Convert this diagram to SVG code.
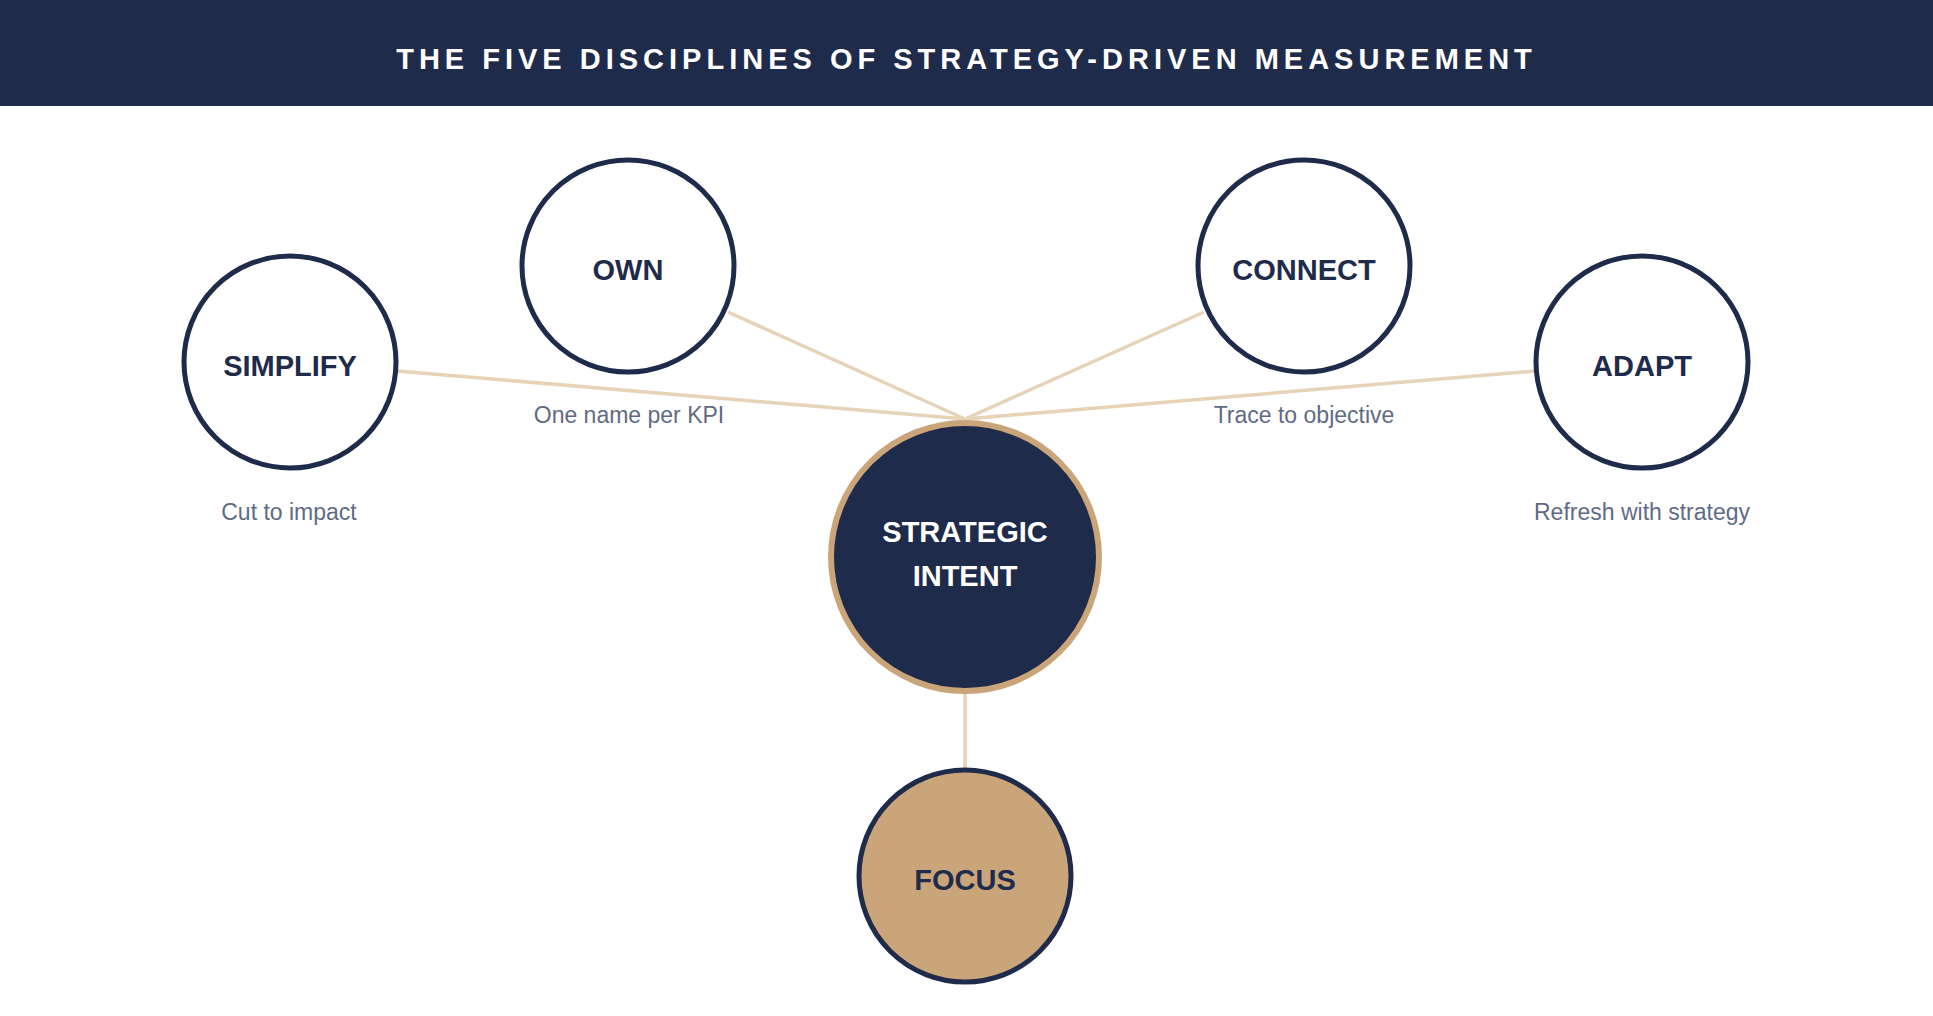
<svg xmlns="http://www.w3.org/2000/svg" width="1933" height="1016" viewBox="0 0 1933 1016">
<style>
.n{fill:#fff;stroke:#1f2b4a;stroke-width:5}
.t{font-family:"Liberation Sans",Arial,sans-serif;font-weight:bold;font-size:29px;fill:#1f2b4a;text-anchor:middle;dominant-baseline:central}
.l{font-family:"Liberation Sans",Arial,sans-serif;font-size:23px;fill:#5f6b85;text-anchor:middle;dominant-baseline:central}
.c{stroke:#e6d3b8;stroke-width:3.5;fill:none}
</style>
<rect width="1933" height="1016" fill="#fff"/>
<g id="header"><rect width="1933" height="106" fill="#1f2b4a"/>
<text x="966.5" y="59" font-family="Liberation Sans,Arial,sans-serif" font-weight="bold" font-size="29" fill="#fff" text-anchor="middle" dominant-baseline="central" letter-spacing="5">THE FIVE DISCIPLINES OF STRATEGY-DRIVEN MEASUREMENT</text></g>
<g id="connectors">
<line class="c" x1="397" y1="371" x2="965" y2="419"/>
<line class="c" x1="728" y1="312" x2="965" y2="419"/>
<line class="c" x1="1204" y1="312" x2="965" y2="419"/>
<line class="c" x1="1535" y1="371" x2="965" y2="419"/>
<line class="c" x1="965" y1="694" x2="965" y2="769"/>
</g>
<g id="own"><circle class="n" cx="628" cy="266" r="106"/><text class="t" x="628" y="270">OWN</text><text class="l" x="629" y="415">One name per KPI</text></g>
<g id="connect"><circle class="n" cx="1304" cy="266" r="106"/><text class="t" x="1304" y="270">CONNECT</text><text class="l" x="1304" y="415">Trace to objective</text></g>
<g id="simplify"><circle class="n" cx="290" cy="362" r="106"/><text class="t" x="290" y="366">SIMPLIFY</text><text class="l" x="289" y="512">Cut to impact</text></g>
<g id="adapt"><circle class="n" cx="1642" cy="362" r="106"/><text class="t" x="1642" y="366">ADAPT</text><text class="l" x="1642" y="512">Refresh with strategy</text></g>
<g id="center"><circle cx="965" cy="557" r="134" fill="#1f2b4a" stroke="#cba57a" stroke-width="6"/><text class="t" x="965" y="532" fill="#fff" style="fill:#fff">STRATEGIC</text><text class="t" x="965" y="576" style="fill:#fff">INTENT</text></g>
<g id="focus"><circle class="n" cx="965" cy="876" r="106" style="fill:#cba57a"/><text class="t" x="965" y="880">FOCUS</text></g>
</svg>
